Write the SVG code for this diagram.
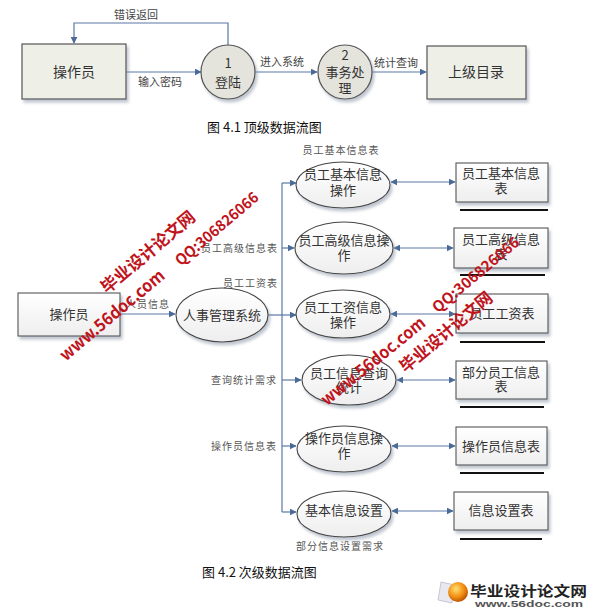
<svg xmlns="http://www.w3.org/2000/svg" width="599" height="612" viewBox="0 0 599 612">
<defs>
<marker id="ah" viewBox="0 0 10 10" refX="9" refY="5" markerWidth="7" markerHeight="7" orient="auto-start-reverse" markerUnits="userSpaceOnUse">
<path d="M0,0 L10,5 L0,10 Z" fill="#4a6a98"/>
</marker>
<filter id="sh" x="-20%" y="-20%" width="150%" height="160%">
<feDropShadow dx="2" dy="3" stdDeviation="1.6" flood-color="#8a96a8" flood-opacity="0.55"/>
</filter>
<radialGradient id="ball" cx="0.4" cy="0.35" r="0.7">
<stop offset="0" stop-color="#ffe070"/>
<stop offset="0.6" stop-color="#f08a10"/>
<stop offset="1" stop-color="#b04a00"/>
</radialGradient>
<linearGradient id="nf" x1="0" y1="0" x2="0" y2="1">
<stop offset="0" stop-color="#ffffff"/>
<stop offset="1" stop-color="#eeeeee"/>
</linearGradient>
</defs>
<style>
text{font-family:"Noto Sans CJK SC","Liberation Serif",serif;fill:#333}
.n{font-size:13px}
.t{font-size:14px}
.l{font-size:10px;letter-spacing:1px;fill:#555}
.lt{font-size:11px;fill:#444}
.m{text-anchor:middle}
.e{text-anchor:end}
.c{stroke:#5a78a4;stroke-width:1.2;fill:none}
.box1{fill:#eef0e8;stroke:#555;stroke-width:1.2}
.circ{fill:#e4e4dc;stroke:#555;stroke-width:1.2}
.box2{fill:url(#nf);stroke:#555;stroke-width:1.1}
.ell{fill:url(#nf);stroke:#444;stroke-width:1.1}
.bar{stroke:#111;stroke-width:2.2}
.cap{font-family:"Noto Sans CJK SC","Liberation Sans",sans-serif;font-size:13px;fill:#111}
.wm{font-family:"Noto Sans CJK SC","Liberation Sans",sans-serif;font-weight:bold;fill:#c0141c;text-anchor:middle}
</style>

<g id="connectors">
<line class="c" x1="126" y1="72" x2="201" y2="72" marker-end="url(#ah)"/>
<polyline class="c" points="228,45 228,23 74,23 74,43" marker-end="url(#ah)"/>
<line class="c" x1="255" y1="72" x2="317" y2="72" marker-end="url(#ah)"/>
<line class="c" x1="372" y1="72" x2="426" y2="72" marker-end="url(#ah)"/>

<line class="c" x1="120" y1="314" x2="175" y2="314" marker-end="url(#ah)"/>
<line class="c" x1="268" y1="315" x2="282" y2="315"/>
<line class="c" x1="282" y1="183" x2="282" y2="512"/>
<line class="c" x1="282" y1="183" x2="296" y2="183" marker-end="url(#ah)"/>
<line class="c" x1="282" y1="248" x2="294" y2="248" marker-end="url(#ah)"/>
<line class="c" x1="282" y1="315" x2="296" y2="315" marker-end="url(#ah)"/>
<line class="c" x1="282" y1="380" x2="301" y2="380" marker-end="url(#ah)"/>
<line class="c" x1="282" y1="446" x2="296" y2="446" marker-end="url(#ah)"/>
<line class="c" x1="282" y1="512" x2="296" y2="512" marker-end="url(#ah)"/>

<line class="c" x1="391" y1="182" x2="455" y2="182" marker-start="url(#ah)" marker-end="url(#ah)"/>
<line class="c" x1="394" y1="248" x2="453" y2="248" marker-start="url(#ah)" marker-end="url(#ah)"/>
<line class="c" x1="391" y1="314" x2="455" y2="314" marker-start="url(#ah)" marker-end="url(#ah)"/>
<line class="c" x1="397" y1="380" x2="455" y2="380" marker-start="url(#ah)" marker-end="url(#ah)"/>
<line class="c" x1="392" y1="446" x2="455" y2="446" marker-start="url(#ah)" marker-end="url(#ah)"/>
<line class="c" x1="392" y1="511" x2="453" y2="511" marker-start="url(#ah)" marker-end="url(#ah)"/>

<text class="lt m" x="136" y="19">错误返回</text>
<text class="lt m" x="160" y="86">输入密码</text>
<text class="lt m" x="282" y="66">进入系统</text>
<text class="lt m" x="396" y="67">统计查询</text>

<text class="l e" x="170" y="308">人员信息</text>
<text class="l m" x="341" y="154">员工基本信息表</text>
<text class="l e" x="278" y="252">员工高级信息表</text>
<text class="l e" x="278" y="287">员工工资表</text>
<text class="l e" x="277" y="384">查询统计需求</text>
<text class="l e" x="277" y="450">操作员信息表</text>
<text class="l m" x="340" y="550">部分信息设置需求</text>
</g>

<g id="top-operator">
<rect class="box1" x="22" y="44" width="104" height="55" filter="url(#sh)"/>
<text class="t m" x="74" y="77">操作员</text>
</g>
<g id="top-login">
<circle class="circ" cx="228" cy="72" r="27" filter="url(#sh)"/>
<text class="n m" x="228" y="68">1</text>
<text class="n m" x="228" y="87">登陆</text>
</g>
<g id="top-process">
<circle class="circ" cx="345" cy="72" r="27" filter="url(#sh)"/>
<text class="n m" x="345" y="60">2</text>
<text class="n m" x="345" y="77">事务处</text>
<text class="n m" x="345" y="93">理</text>
</g>
<g id="top-upper">
<rect class="box1" x="427" y="46" width="99" height="53" filter="url(#sh)"/>
<text class="t m" x="476" y="77">上级目录</text>
</g>
<text class="cap" x="207" y="132">图 4.1 顶级数据流图</text>

<g id="operator2">
<rect class="box2" x="18" y="293" width="102" height="43" filter="url(#sh)"/>
<text class="n m" x="69" y="319">操作员</text>
</g>
<g id="hr-system">
<ellipse class="ell" cx="222" cy="315" rx="46" ry="27" filter="url(#sh)"/>
<text class="n m" x="222" y="320">人事管理系统</text>
</g>

<g id="p1">
<ellipse class="ell" cx="343" cy="185" rx="47" ry="23" filter="url(#sh)"/>
<text class="n m" x="343" y="179">员工基本信息</text>
<text class="n m" x="343" y="195">操作</text>
</g>
<g id="p2">
<ellipse class="ell" cx="344" cy="248" rx="49" ry="26" filter="url(#sh)"/>
<text class="n m" x="344" y="245">员工高级信息操</text>
<text class="n m" x="344" y="260">作</text>
</g>
<g id="p3">
<ellipse class="ell" cx="343" cy="314" rx="47" ry="24" filter="url(#sh)"/>
<text class="n m" x="343" y="312">员工工资信息</text>
<text class="n m" x="343" y="327">操作</text>
</g>
<g id="p4">
<ellipse class="ell" cx="349" cy="380" rx="47" ry="25" filter="url(#sh)"/>
<text class="n m" x="349" y="378">员工信息查询</text>
<text class="n m" x="349" y="392">统计</text>
</g>
<g id="p5">
<ellipse class="ell" cx="344" cy="449" rx="47" ry="23" filter="url(#sh)"/>
<text class="n m" x="344" y="443">操作员信息操</text>
<text class="n m" x="344" y="458">作</text>
</g>
<g id="p6">
<ellipse class="ell" cx="344" cy="514" rx="47" ry="23" filter="url(#sh)"/>
<text class="n m" x="344" y="515">基本信息设置</text>
</g>

<g id="d1">
<rect class="box2" x="456" y="163" width="92" height="39" filter="url(#sh)"/>
<text class="n m" x="501" y="178">员工基本信息</text>
<text class="n m" x="501" y="193">表</text>
<line class="bar" x1="460" y1="210" x2="548" y2="210"/>
</g>
<g id="d2">
<rect class="box2" x="454" y="228" width="94" height="40" filter="url(#sh)"/>
<text class="n m" x="501" y="244">员工高级信息</text>
<text class="n m" x="501" y="259">表</text>
<line class="bar" x1="460" y1="275" x2="545" y2="275"/>
</g>
<g id="d3">
<rect class="box2" x="456" y="294" width="92" height="39" filter="url(#sh)"/>
<text class="n m" x="502" y="318">员工工资表</text>
<line class="bar" x1="460" y1="342" x2="545" y2="342"/>
</g>
<g id="d4">
<rect class="box2" x="456" y="361" width="91" height="38" filter="url(#sh)"/>
<text class="n m" x="501" y="377">部分员工信息</text>
<text class="n m" x="501" y="391">表</text>
<line class="bar" x1="460" y1="407" x2="544" y2="407"/>
</g>
<g id="d5">
<rect class="box2" x="456" y="427" width="91" height="38" filter="url(#sh)"/>
<text class="n m" x="501" y="451">操作员信息表</text>
<line class="bar" x1="460" y1="473" x2="544" y2="473"/>
</g>
<g id="d6">
<rect class="box2" x="454" y="492" width="94" height="38" filter="url(#sh)"/>
<text class="n m" x="501" y="515">信息设置表</text>
<line class="bar" x1="460" y1="539" x2="542" y2="539"/>
</g>

<text class="cap" x="202" y="577">图 4.2 次级数据流图</text>

<g id="watermarks">
<text class="wm" font-size="17" textLength="117" lengthAdjust="spacingAndGlyphs" transform="translate(148,252) rotate(-40)" y="6">毕业设计论文网</text>
<text class="wm" font-size="15" textLength="104" lengthAdjust="spacingAndGlyphs" transform="translate(217,229) rotate(-40.5)" y="5">QQ:306826066</text>
<text class="wm" font-size="17" textLength="131" lengthAdjust="spacingAndGlyphs" transform="translate(112,315) rotate(-40)" y="6">www.56doc.com</text>
<text class="wm" font-size="17" textLength="115" lengthAdjust="spacingAndGlyphs" transform="translate(446,332) rotate(-40)" y="6">毕业设计论文网</text>
<text class="wm" font-size="15" textLength="108" lengthAdjust="spacingAndGlyphs" transform="translate(476,275) rotate(-40)" y="5">QQ:306826066</text>
<text class="wm" font-size="17" textLength="129" lengthAdjust="spacingAndGlyphs" transform="translate(373,361) rotate(-39)" y="6">www.56doc.com</text>
</g>

<g id="logo">
<path d="M441,582 L455,585 L452,603 L438,600 Z" fill="#e8e8ee" stroke="#aab" stroke-width="0.6"/>
<circle cx="458" cy="592" r="10" fill="url(#ball)"/>
<text x="470" y="596" font-size="14" font-weight="bold" textLength="117" lengthAdjust="spacingAndGlyphs" style="fill:#222;font-family:'Noto Sans CJK SC','Liberation Sans',sans-serif">毕业设计论文网</text>
<text x="475" y="607" font-size="9" font-weight="bold" textLength="108" lengthAdjust="spacingAndGlyphs" style="fill:#555;font-family:'Liberation Sans',sans-serif">www.56doc.com</text>
</g>
</svg>
